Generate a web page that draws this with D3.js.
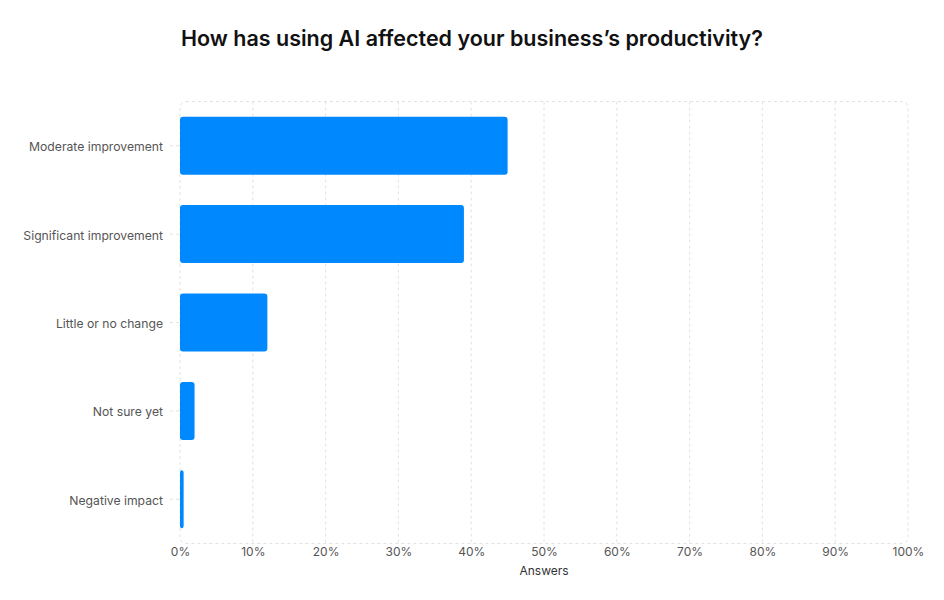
<!DOCTYPE html>
<html>
<head>
<meta charset="utf-8">
<script src="https://cdn.jsdelivr.net/npm/d3@7"></script>
<style>
  body { margin: 0; background: #fff; font-family: Inter, "Noto Sans", sans-serif; }
  svg { display: block; }
</style>
</head>
<body>
<svg width="944" height="600"></svg>
<script>
const width = 944, height = 600;
const svg = d3.select("svg");

// data
const categories = ["Moderate improvement", "Significant improvement", "Little or no change", "Not sure yet", "Negative impact"];
const shares = [45, 39, 12, 2, 0.5];
const xTicks = [0, 10, 20, 30, 40, 50, 60, 70, 80, 90, 100];

const margin = { top: 101.5, right: 36, bottom: 56.5, left: 180 };
const innerW = width - margin.left - margin.right;
const innerH = height - margin.top - margin.bottom;

const x = d3.scaleLinear().domain([0, 100]).range([0, innerW]);
const y = d3.scaleBand().domain(categories).range([0, innerH])
  .paddingInner(0.344).paddingOuter(0.172);

// title
svg.append("text")
  .attr("x", 181)
  .attr("y", 46)
  .attr("font-size", 21.5)
  .attr("font-weight", 600)
  .attr("fill", "#111")
  .text("How has using AI affected your business’s productivity?");

const g = svg.append("g").attr("transform", `translate(${margin.left},${margin.top})`);

// grid lines
g.append("g")
  .selectAll("line")
  .data(xTicks.slice(1, -1))
  .join("line")
  .attr("x1", d => x(d)).attr("x2", d => x(d))
  .attr("y1", 0).attr("y2", innerH)
  .attr("stroke", "#e2e2e2")
  .attr("stroke-dasharray", "3,3");

// plot frame
g.append("rect")
  .attr("x", 0).attr("y", 0)
  .attr("width", innerW).attr("height", innerH)
  .attr("rx", 6)
  .attr("fill", "none")
  .attr("stroke", "#e2e2e2")
  .attr("stroke-dasharray", "3,3");

// bars
g.selectAll(".bar")
  .data(categories)
  .join("rect")
  .attr("class", "bar")
  .attr("x", 0)
  .attr("y", d => y(d))
  .attr("width", (d, i) => x(shares[i]))
  .attr("height", y.bandwidth())
  .attr("rx", 3)
  .attr("fill", "#0088ff");

// y axis
const yAxis = g.append("g")
  .call(d3.axisLeft(y).tickSize(12).tickPadding(5));
yAxis.select(".domain").remove();
yAxis.selectAll(".tick line")
  .attr("x2", -12).attr("x1", -1)
  .attr("stroke", "#e2e2e2")
  .attr("stroke-dasharray", "3,3");
yAxis.selectAll(".tick text")
  .attr("x", -17)
  .attr("dy", "0.45em")
  .attr("font-family", "Inter, 'Noto Sans', sans-serif")
  .attr("font-size", 12.2)
  .attr("fill", "#555");

// x axis
const xAxis = g.append("g")
  .attr("transform", `translate(0,${innerH})`)
  .call(d3.axisBottom(x).tickValues(xTicks).tickFormat(d => d + "%").tickSize(0).tickPadding(4));
xAxis.select(".domain").remove();
xAxis.selectAll(".tick text")
  .attr("font-family", "Inter, 'Noto Sans', sans-serif")
  .attr("font-size", 12)
  .attr("fill", "#555");

// x axis title
svg.append("text")
  .attr("x", margin.left + innerW / 2)
  .attr("y", 575)
  .attr("text-anchor", "middle")
  .attr("font-size", 12)
  .attr("fill", "#333")
  .text("Answers");
</script>
</body>
</html>
